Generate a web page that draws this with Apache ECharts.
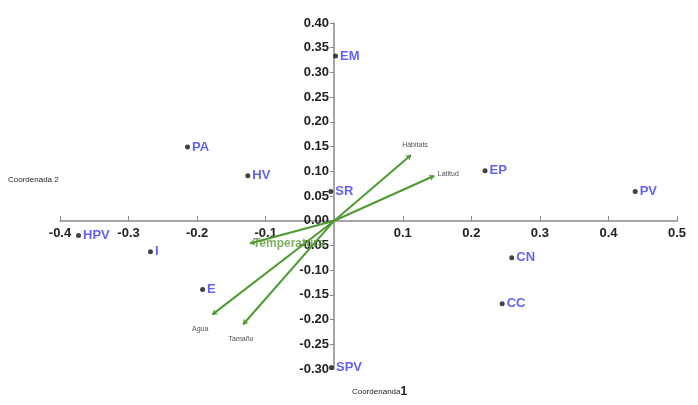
<!DOCTYPE html>
<html>
<head>
<meta charset="utf-8">
<script src="https://cdn.jsdelivr.net/npm/echarts@6/dist/echarts.min.js"></script>
<style>html,body{margin:0;padding:0;background:#fff}#main{width:698px;height:405px}</style>
</head>
<body>
<div id="main"></div>
<script>
// 点的名称和坐标
var siteNames = ['EM', 'PA', 'HV', 'SR', 'EP', 'PV', 'HPV', 'I', 'E', 'CN', 'CC', 'SPV'];
var siteX = [0.002, -0.214, -0.126, -0.005, 0.220, 0.439, -0.373, -0.268, -0.192, 0.259, 0.245, -0.004];
var siteY = [0.333, 0.149, 0.091, 0.059, 0.101, 0.059, -0.030, -0.063, -0.139, -0.075, -0.168, -0.297];
// 变量向量
var vecNames = ['Hábitats', 'Latitud', 'Temperatura', 'Agua', 'Tamaño'];
var vecX = [0.112, 0.146, -0.123, -0.178, -0.133];
var vecY = [0.133, 0.091, -0.046, -0.190, -0.210];
// 标签位置
var vecLabelPos = [[4, -18], [14, -10], [-2, 0], [-12, 6], [-2, 6]];

(function() {
    var myChart = echarts.init(document.getElementById('main'));
    var points = siteNames.map(function(n, i) { return { name: n, value: [siteX[i], siteY[i]] }; });
    var vecLines = vecNames.map(function(n, i) { return { coords: [[0, 0], [vecX[i], vecY[i]]] }; });
    var vecLabels = vecNames.map(function(n, i) {
        var temp = n === 'Temperatura';
        return {
            name: n, value: [vecX[i], vecY[i]],
            label: {
                show: true, formatter: n, position: temp ? 'right' : 'bottom',
                offset: vecLabelPos[i],
                color: temp ? '#5a9a3a' : '#222',
                fontSize: temp ? 12 : 7,
                fontWeight: temp ? 'bold' : 'normal'
            }
        };
    });
    var axisLbl = { color: '#222', fontSize: 13, fontFamily: 'Liberation Sans', fontWeight: 'bold' };
    var option = {
        animation: false,
        grid: { left: 60, right: 21, top: 23, bottom: 36 },
        xAxis: {
            type: 'value', min: -0.4, max: 0.5, interval: 0.1,
            offset: -148,
            axisLine: { onZero: false, lineStyle: { color: '#888', width: 1.5 } },
            axisTick: { show: true, inside: true, length: 5, lineStyle: { color: '#888' } },
            axisLabel: Object.assign({ formatter: function(v) { return Math.abs(v) < 1e-9 ? '' : String(+v.toFixed(1)); }, margin: 6 }, axisLbl),
            splitLine: { show: false }
        },
        yAxis: {
            type: 'value', min: -0.3, max: 0.4, interval: 0.05,
            offset: -274,
            axisLine: { onZero: false, lineStyle: { color: '#888', width: 1.5 } },
            axisTick: { show: true, inside: false, length: 4, lineStyle: { color: '#888' } },
            axisLabel: Object.assign({ formatter: function(v) { return v.toFixed(2); }, margin: 5 }, axisLbl),
            splitLine: { show: false }
        },
        graphic: [
            { type: 'text', left: 8, top: 176, style: { text: 'Coordenada 2', fontSize: 8, fill: '#222', fontFamily: 'Liberation Sans' } },
            { type: 'text', left: 352, top: 386, style: { rich: { a: { fontSize: 8, fill: '#222' }, b: { fontSize: 12, fontWeight: 'bold', fill: '#222' } }, text: '{a|Coordenanda}{b|1}', fontFamily: 'Liberation Sans' } }
        ],
        series: [
            {
                type: 'lines', coordinateSystem: 'cartesian2d', data: vecLines,
                symbol: ['none', 'arrow'], symbolSize: 5,
                lineStyle: { color: '#4f9a30', width: 2, opacity: 1 }, z: 3
            },
            {
                type: 'scatter', data: vecLabels, symbolSize: 0, silent: true, z: 4
            },
            {
                type: 'scatter', data: points, symbolSize: 5,
                itemStyle: { color: '#111' },
                label: { show: true, position: 'right', formatter: '{b}', distance: 2, color: '#3a3af0', fontSize: 13, fontWeight: 'bold', fontFamily: 'Liberation Sans' },
                z: 5
            }
        ]
    };
    myChart.setOption(option);
})();
</script>
</body>
</html>
